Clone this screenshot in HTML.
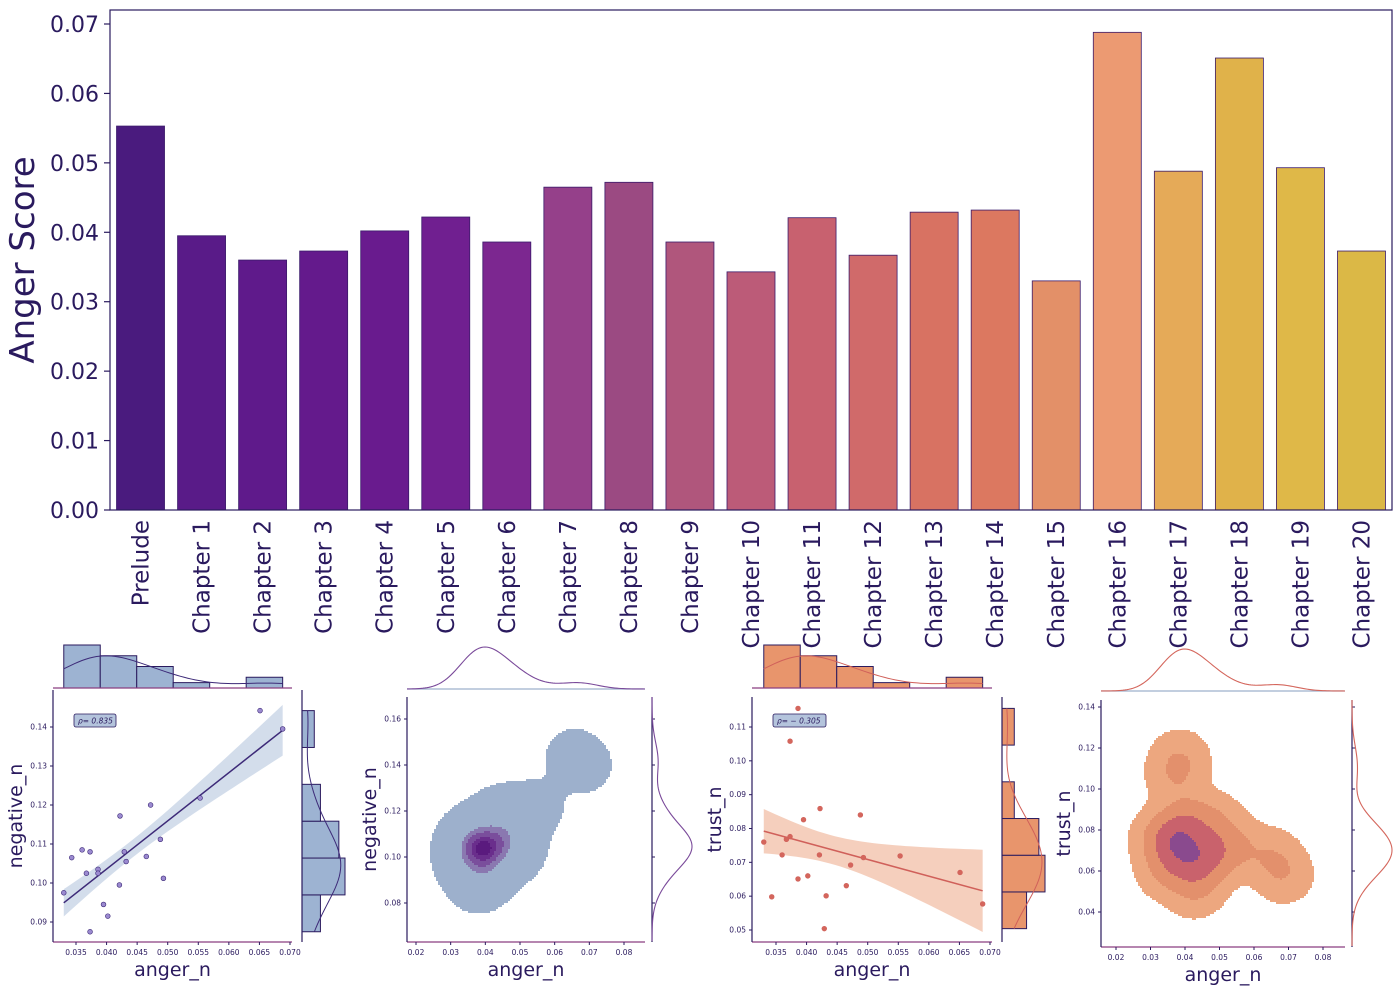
<!DOCTYPE html>
<html><head><meta charset="utf-8"><style>
html,body{margin:0;padding:0;background:#fff;}
svg{display:block;font-family:"DejaVu Sans","Liberation Sans",sans-serif;}
</style></head><body>
<svg id="c" width="1400" height="989" viewBox="0 0 1400 989" xmlns="http://www.w3.org/2000/svg"></svg>
<script>
const categories=["Prelude","Chapter 1","Chapter 2","Chapter 3","Chapter 4","Chapter 5","Chapter 6","Chapter 7","Chapter 8","Chapter 9","Chapter 10","Chapter 11","Chapter 12","Chapter 13","Chapter 14","Chapter 15","Chapter 16","Chapter 17","Chapter 18","Chapter 19","Chapter 20"];
const angerValues=[0.0553,0.0395,0.0360,0.0373,0.0402,0.0422,0.0386,0.0465,0.0472,0.0386,0.0343,0.0421,0.0367,0.0429,0.0432,0.0330,0.0688,0.0488,0.0651,0.0493,0.0373];
const negativeValues=[0.1218,0.0945,0.1085,0.1080,0.0915,0.1172,0.1035,0.1068,0.1200,0.1025,0.1065,0.0995,0.1025,0.1080,0.1055,0.0975,0.1395,0.1112,0.1442,0.1012,0.0875];
const trustValues=[0.0719,0.0826,0.0722,0.0776,0.0660,0.0859,0.1155,0.0631,0.0692,0.0651,0.0598,0.0722,0.0768,0.0504,0.0601,0.0760,0.0577,0.0840,0.0670,0.0714,0.1058];
const yTicks=[0,0.01,0.02,0.03,0.04,0.05,0.06,0.07];
const barColors=["#4a1b7e","#591b88","#5f1a8b","#641a8c","#691b8e","#701f90","#7c2790","#95408a","#9b4a82","#b0567c","#bc5b78","#c8616f","#d06a6a","#d87262","#dc7860","#e39068","#ec9a72","#e5aa58","#e0b24a","#dfb848","#dbb846"];
const svg=document.getElementById('c');
const NS="http://www.w3.org/2000/svg";
function mk(tag,attrs,parent){const e=document.createElementNS(NS,tag);for(const k in attrs)e.setAttribute(k,attrs[k]);(parent||svg).appendChild(e);return e;}
const AX="#2a1a5e";
const X0=110,X1=1392,YT=10,YB=510,YMAX=0.07,Y07=24;
const ys=v=>YB-(v/YMAX)*(YB-Y07);
const step=(X1-X0)/categories.length;
const xc=i=>X0+step*(i+0.5);
const main=mk('g',{});


categories.forEach((c,i)=>{
  const r=mk('rect',{x:xc(i)-24,y:ys(angerValues[i]),width:48,height:YB-ys(angerValues[i]),fill:barColors[i],stroke:"#3a1a6a","stroke-width":0.8},main);
  
  
  const t=mk('text',{x:0,y:0,transform:`translate(${xc(i)+8},${YB+10}) rotate(-90)`,"text-anchor":"end","font-size":23,fill:AX},main);
  t.textContent=c;
  
  
});
yTicks.forEach(v=>{
  mk('line',{x1:X0-6,x2:X0,y1:ys(v),y2:ys(v),stroke:AX,"stroke-width":1.2},main);
  const t=mk('text',{x:X0-11,y:ys(v)+8,"text-anchor":"end","font-size":22,fill:AX},main);
  t.textContent=v.toFixed(2);
  
  
});
const fr=mk('rect',{x:X0,y:YT,width:X1-X0,height:YB-YT,fill:"none",stroke:AX,"stroke-width":1.2},main);


const yl=mk('text',{x:0,y:0,transform:"translate(34,260) rotate(-90)","text-anchor":"middle","font-size":34,fill:AX},main);
yl.textContent="Anger Score";



function mean(a){return a.reduce((s,v)=>s+v,0)/a.length;}
function std(a){const m=mean(a);return Math.sqrt(a.reduce((s,v)=>s+(v-m)*(v-m),0)/(a.length-1));}
function kde1(a,x){const h=std(a)*Math.pow(a.length,-0.2);let s=0;for(const v of a){const z=(x-v)/h;s+=Math.exp(-z*z/2);}return s/(a.length*h*Math.sqrt(2*Math.PI));}
function panelAxes(g,P,xt,yt,xfmt,yfmt,ylabel){
  mk('line',{x1:P.x0,x2:P.x1,y1:P.y1,y2:P.y1,stroke:"#8a3f80","stroke-width":1.3},g);
  mk('line',{x1:P.x0,x2:P.x0,y1:P.y0,y2:P.y1,stroke:AX,"stroke-width":1.2},g);
  xt.forEach(v=>{const x=P.sx(v);mk('line',{x1:x,x2:x,y1:P.y1,y2:P.y1+3,stroke:AX},g);
    const t=mk('text',{x:x,y:P.y1+13,"text-anchor":"middle","font-size":7.5,fill:AX},g);t.textContent=v.toFixed(xfmt);
    });
  yt.forEach(v=>{const y=P.sy(v);mk('line',{x1:P.x0-3,x2:P.x0,y1:y,y2:y,stroke:AX},g);
    const t=mk('text',{x:P.x0-6,y:y+2.5,"text-anchor":"end","font-size":7.5,fill:AX},g);t.textContent=v.toFixed(yfmt);
    });
  const xl=mk('text',{x:(P.x0+P.x1)/2,y:P.y1+34,"text-anchor":"middle","font-size":19,fill:AX},g);xl.textContent="anger_n";
  
  const yl=mk('text',{x:0,y:0,transform:`translate(${P.x0-31},${(P.y0+P.y1)/2}) rotate(-90)`,"text-anchor":"middle","font-size":19,fill:AX},g);yl.textContent=ylabel;
  
}
function mkP(x0,x1,y0,y1,xa,xav,xb,xbv,ya,yav,yb,ybv){
  const kx=(xb-xa)/(xbv-xav),ky=(yb-ya)/(ybv-yav);
  return {x0,x1,y0,y1,sx:v=>xa+(v-xav)*kx,sy:v=>ya+(v-yav)*ky,ix:p=>xav+(p-xa)/kx,iy:p=>yav+(p-ya)/ky};
}
function scatterPanel(P,yv,col,fill,ptcol,rho,yt,ylabel,rtop,name){
  const g=mk('g',{});
  const n=angerValues.length,mx=mean(angerValues),my=mean(yv);
  let sxx=0,sxy=0;angerValues.forEach((x,i)=>{sxx+=(x-mx)**2;sxy+=(x-mx)*(yv[i]-my);});
  const b=sxy/sxx,a=my-b*mx;let sse=0;angerValues.forEach((x,i)=>{sse+=(yv[i]-a-b*x)**2;});
  const se=Math.sqrt(sse/(n-2));
  const xmin=Math.min(...angerValues),xmax=Math.max(...angerValues);
  let up=[],lo=[];
  for(let k=0;k<=40;k++){const x=xmin+(xmax-xmin)*k/40;const y=a+b*x;const w=1.3*se*Math.sqrt(1/n+(x-mx)**2/sxx);
    up.push(P.sx(x)+','+P.sy(y+w));lo.unshift(P.sx(x)+','+P.sy(y-w));}
  const band=mk('polygon',{points:up.concat(lo).join(' '),fill:fill,opacity:0.45},g);
  
  const ln=mk('line',{x1:P.sx(xmin),y1:P.sy(a+b*xmin),x2:P.sx(xmax),y2:P.sy(a+b*xmax),stroke:col,"stroke-width":1.5},g);
  
  angerValues.forEach((x,i)=>{const c=mk('circle',{cx:P.sx(x),cy:P.sy(yv[i]),r:2.4,fill:ptcol,stroke:col,"stroke-width":0.6},g);
    });
  const bx=mk('rect',{x:P.x0+21,y:rtop,width:rho.length>6?53:42,height:13,rx:2,fill:"#b4c4dc",stroke:AX,"stroke-width":0.8},g);
  
  const rt=mk('text',{x:P.x0+25,y:rtop+9.5,"font-size":7.5,fill:AX,"font-style":"italic"},g);rt.textContent="ρ= "+rho;
  
  panelAxes(g,P,[0.035,0.040,0.045,0.050,0.055,0.060,0.065,0.070],yt,3,2,ylabel);
  const bins=6,w=(xmax-xmin)/bins,cnt=new Array(bins).fill(0);
  angerValues.forEach(x=>{cnt[Math.min(bins-1,Math.floor((x-xmin)/w))]++;});
  const mc=Math.max(...cnt),base=688,H=43;
  cnt.forEach((c,i)=>{if(!c)return;const h=c/mc*H;const r=mk('rect',{x:P.sx(xmin+i*w),y:base-h,width:P.sx(xmin+(i+1)*w)-P.sx(xmin+i*w),height:h,fill:fill,stroke:AX,"stroke-width":1},g);
    });
  mk('line',{x1:P.x0,x2:P.x1,y1:base,y2:base,stroke:"#8a3f80","stroke-width":1.3},g);
  const sc=(n*w)/mc*H;let kd=[];
  for(let k=0;k<=60;k++){const x=xmin+(xmax-xmin)*k/60;kd.push(P.sx(x)+','+(base-kde1(angerValues,x)*sc));}
  const tc=mk('polyline',{points:kd.join(' '),fill:"none",stroke:col,"stroke-width":1},g);
  
  const ymin=Math.min(...yv),ymax=Math.max(...yv),wy=(ymax-ymin)/bins,cy=new Array(bins).fill(0);
  yv.forEach(y=>{cy[Math.min(bins-1,Math.floor((y-ymin)/wy))]++;});
  const mcy=Math.max(...cy),rb=P.x1+10,W=43;
  cy.forEach((c,i)=>{if(!c)return;const ww=c/mcy*W;const r=mk('rect',{x:rb,y:P.sy(ymin+(i+1)*wy),width:ww,height:P.sy(ymin+i*wy)-P.sy(ymin+(i+1)*wy),fill:fill,stroke:AX,"stroke-width":1},g);
    });
  mk('line',{x1:rb,x2:rb,y1:P.y0,y2:P.y1,stroke:AX,"stroke-width":1.2},g);
  const scy=(n*wy)/mcy*W;let kr=[];for(let k=0;k<=60;k++){const y=ymin+(ymax-ymin)*k/60;kr.push((rb+kde1(yv,y)*scy)+','+P.sy(y));}
  const rc=mk('polyline',{points:kr.join(' '),fill:"none",stroke:col,"stroke-width":1},g);
  
}
function kdePanel(P,yv,levels,colors,mcol,xt,yt,ylabel,tb,name,bwf){
  const g=mk('g',{});
  const n=angerValues.length,f=Math.pow(n,-1/6)*bwf,hx=std(angerValues)*f,hy=std(yv)*f;
  const cell=2;let dens=[],dm=0;
  for(let py=P.y0;py<P.y1;py+=cell){for(let px=P.x0+1;px<P.x1;px+=cell){
    const x=P.ix(px+1),y=P.iy(py+1);let s=0;
    angerValues.forEach((ax,i)=>{const zx=(x-ax)/hx,zy=(y-yv[i])/hy;s+=Math.exp(-(zx*zx+zy*zy)/2);});
    dens.push([px,py,s]);dm=Math.max(dm,s);}}
  let path=levels.map(()=>"");
  dens.forEach(([px,py,s])=>{let li=-1;levels.forEach((l,k)=>{if(s/dm>=l)li=k;});if(li>=0)path[li]+=`M${px},${py}h${cell}v${cell}h-${cell}z`;});
  path.forEach((p,k)=>{const e=mk('path',{d:p,fill:colors[k]},g);});
  panelAxes(g,P,xt,yt,2,2,ylabel);
  let top=[],tm=0;for(let px=P.x0;px<=P.x1;px+=2){const d=kde1(angerValues,P.ix(px));top.push([px,d]);tm=Math.max(tm,d);}
  mk('line',{x1:P.x0,x2:P.x1,y1:tb,y2:tb,stroke:"#9db0cc","stroke-width":1.3},g);
  const tc=mk('polyline',{points:top.map(p=>p[0]+','+(tb-p[1]/tm*42)).join(' '),fill:"none",stroke:mcol,"stroke-width":1.1},g);
  
  const rb=P.x1+7;let rt=[],rm=0;for(let py=P.y0;py<=P.y1;py+=2){const d=kde1(yv,P.iy(py));rt.push([py,d]);rm=Math.max(rm,d);}
  mk('line',{x1:rb,x2:rb,y1:P.y0,y2:P.y1,stroke:AX,"stroke-width":1.2},g);
  yt.forEach(v=>mk('line',{x1:rb,x2:rb+3,y1:P.sy(v),y2:P.sy(v),stroke:AX},g));
  const rc=mk('polyline',{points:rt.map(p=>(rb+p[1]/rm*40)+','+p[0]).join(' '),fill:"none",stroke:mcol,"stroke-width":1.1},g);
  
}
const P1=mkP(53,292,690,942,76,0.035,290,0.070,727,0.14,922,0.09);
scatterPanel(P1,negativeValues,"#3d2a78","#9db3d2","#9b8ad0","0.835",[0.09,0.10,0.11,0.12,0.13,0.14],"negative_n",714,"scatter-anger-negative");
const P3=mkP(752,992,697,942,776,0.035,990,0.070,727,0.11,930,0.05);
scatterPanel(P3,trustValues,"#d0605a","#e8956c","#d4665c","− 0.305",[0.05,0.06,0.07,0.08,0.09,0.10,0.11],"trust_n",714,"scatter-anger-trust");
const P2=mkP(407,645,697,942,416,0.02,624,0.08,719,0.16,903,0.08);
kdePanel(P2,negativeValues,[0.04,0.62,0.76,0.88,0.95],["#9db0cc","#8a78b0","#7a4e9c","#6a2e8c","#5a1a7e"],"#7a4a9a",[0.02,0.03,0.04,0.05,0.06,0.07,0.08],[0.08,0.10,0.12,0.14,0.16],"negative_n",689,"kde-anger-negative",0.85);
const P4=mkP(1101,1345,700,947,1116,0.02,1323,0.08,707,0.14,912,0.04);
kdePanel(P4,trustValues,[0.035,0.2,0.5,0.88],["#eda77f","#e3906c","#c9626c","#8a4a8e"],"#d4665c",[0.02,0.03,0.04,0.05,0.06,0.07,0.08],[0.04,0.06,0.08,0.10,0.12,0.14],"trust_n",691,"kde-anger-trust",0.85);
</script>
</body></html>
